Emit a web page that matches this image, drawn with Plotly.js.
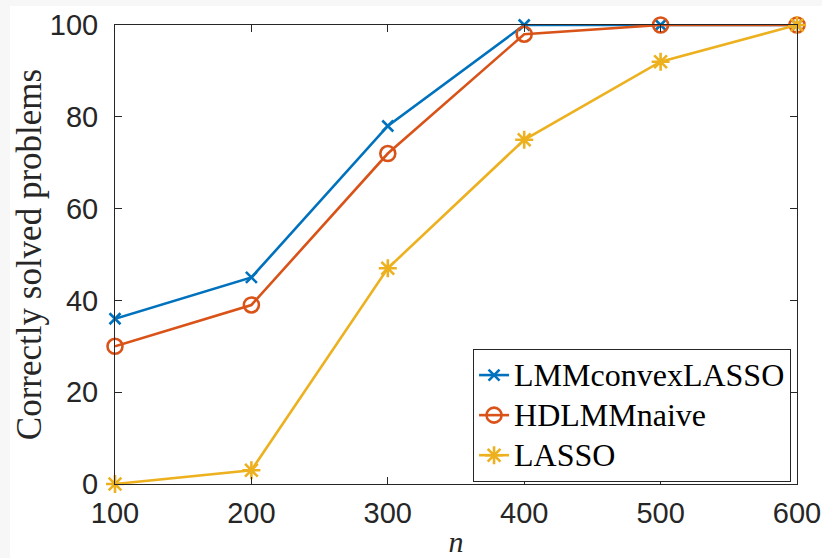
<!DOCTYPE html>
<html>
<head>
<meta charset="utf-8">
<script src="https://cdn.plot.ly/plotly-3.0.1.min.js"></script>
<style>
html,body{margin:0;padding:0;background:#f7f7f7;width:822px;height:558px;overflow:hidden;}
#chart{position:absolute;left:10px;top:6px;width:812px;height:552px;background:#fff;}
</style>
</head>
<body>
<div id="chart"></div>
<script>
const nValues = [100, 200, 300, 400, 500, 600];
const lmmConvexLasso = [36, 45, 78, 100, 100, 100];
const hdlmmNaive = [30, 39, 72, 98, 100, 100];
const lasso = [0, 3, 47, 75, 92, 100];
const seriesNames = ['LMMconvexLASSO', 'HDLMMnaive', 'LASSO'];
const xTicks = [100, 200, 300, 400, 500, 600];
const yTicks = [0, 20, 40, 60, 80, 100];

const axisColor = '#262626';
const serif = '"Liberation Serif", "Times New Roman", serif';
const sans = '"Liberation Sans", Arial, sans-serif';
const legendName = s => '<span style="font-size:32px">' + s + '</span>';

const traces = [
  {x: nValues, y: lmmConvexLasso, name: legendName(seriesNames[0]), mode: 'lines+markers', cliponaxis: false,
   line: {color: '#0072BD', width: 2.6},
   marker: {symbol: 'x-thin-open', size: 11, line: {color: '#0072BD', width: 2.6}}},
  {x: nValues, y: hdlmmNaive, name: legendName(seriesNames[1]), mode: 'lines+markers', cliponaxis: false,
   line: {color: '#D95319', width: 2.6},
   marker: {symbol: 'circle-open', size: 15, line: {color: '#D95319', width: 2.6}}},
  {x: nValues, y: lasso, name: legendName(seriesNames[2]), mode: 'lines+markers', cliponaxis: false,
   line: {color: '#EDB120', width: 2.6},
   marker: {symbol: 'asterisk-open', size: 15, line: {color: '#EDB120', width: 2.6}}}
];

const layout = {
  width: 812, height: 552,
  paper_bgcolor: '#ffffff', plot_bgcolor: '#ffffff',
  margin: {l: 105, r: 25, t: 19, b: 74},
  showlegend: true,
  xaxis: {
    range: [100, 600], tickvals: xTicks, ticktext: xTicks.map(String),
    showgrid: false, zeroline: false,
    showline: true, linecolor: axisColor, linewidth: 1, mirror: 'ticks',
    ticks: 'inside', ticklen: 7, tickcolor: axisColor, tickwidth: 1,
    tickfont: {family: sans, size: 29, color: axisColor},
    ticklabelstandoff: 3,
    title: {text: '<i>n</i>', font: {family: serif, size: 30, color: axisColor}, standoff: 10},
    fixedrange: true
  },
  yaxis: {
    range: [0, 100], tickvals: yTicks, ticktext: yTicks.map(String),
    showgrid: false, zeroline: false,
    showline: true, linecolor: axisColor, linewidth: 1, mirror: 'ticks',
    ticks: 'inside', ticklen: 7, tickcolor: axisColor, tickwidth: 1,
    tickfont: {family: sans, size: 29, color: axisColor},
    ticklabelstandoff: 10,
    title: {text: 'Correctly solved problems', font: {family: serif, size: 35, color: axisColor}, standoff: 15},
    fixedrange: true
  },
  legend: {
    x: 0.525, y: 0.294, xanchor: 'left', yanchor: 'top',
    bgcolor: '#ffffff', bordercolor: axisColor, borderwidth: 1,
    font: {family: serif, size: 28.5, color: '#000000'},
    itemwidth: 30, tracegroupgap: 0
  }
};

Plotly.newPlot('chart', traces, layout, {displayModeBar: false, staticPlot: true});
</script>
</body>
</html>
